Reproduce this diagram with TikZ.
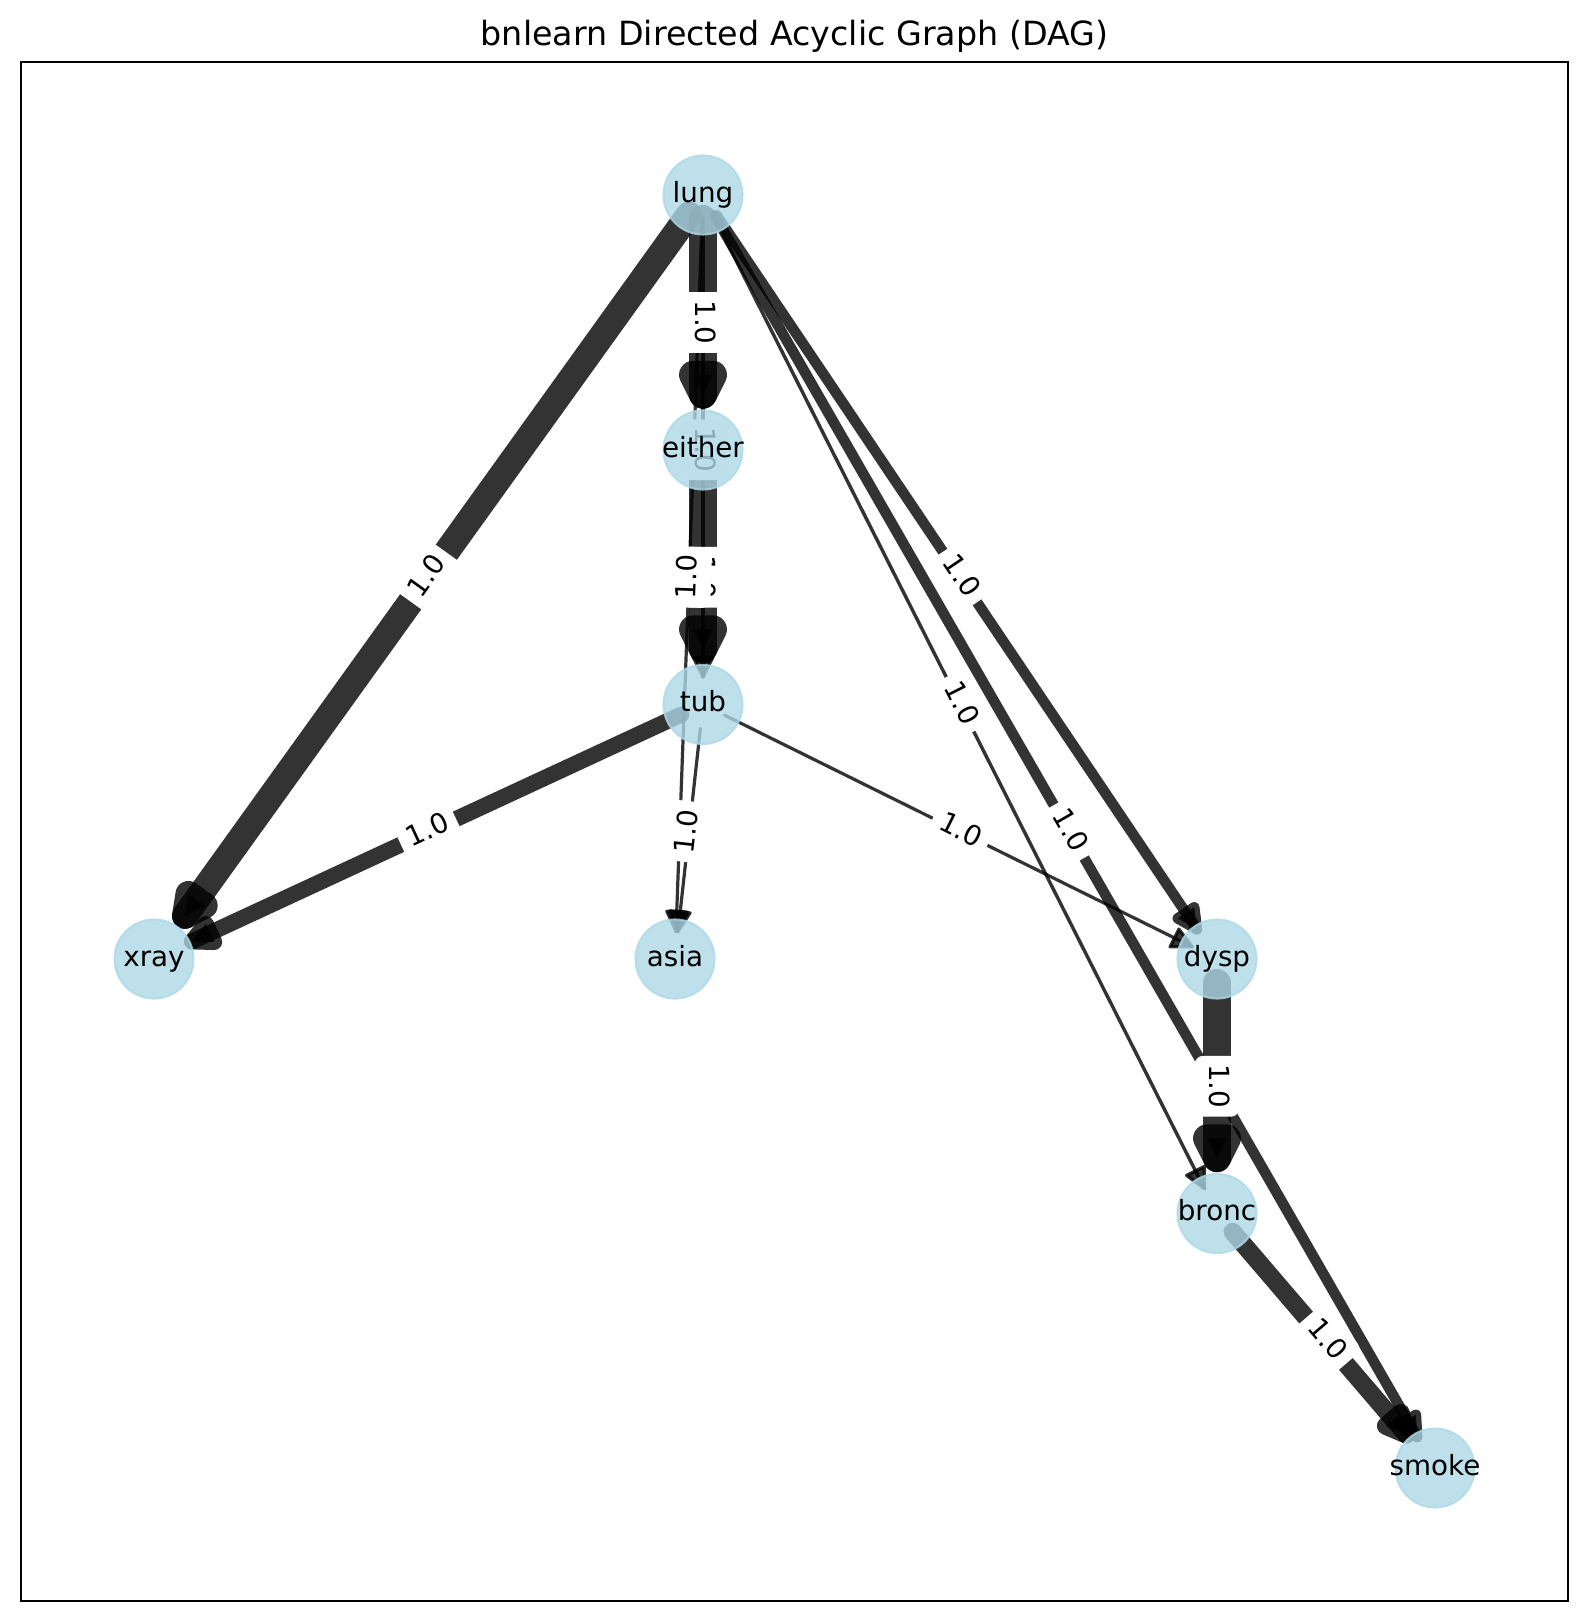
\documentclass[tikz,border=0pt]{standalone}
\usepackage{fontspec}
\setmainfont{DejaVu Sans}
\usetikzlibrary{calc}
\pgfdeclarelayer{edgelayer}
\pgfdeclarelayer{labellayer}
\pgfsetlayers{edgelayer,labellayer,main}
\definecolor{nodeblue}{RGB}{173,216,230}
\tikzset{
  dagnode/.style={circle, inner sep=0pt, minimum size=28.5pt, fill=nodeblue, draw=nodeblue,
    line width=0.7pt, fill opacity=0.8, draw opacity=0.8, text opacity=1, text=black,
    font=\fontsize{10}{12}\selectfont, text height=7.6pt, text depth=2.4pt},
  edgeline/.style={draw=black, draw opacity=0.8, line cap=round},
  edgehead/.style={draw=black, fill=black, draw opacity=0.8, fill opacity=0.8, line join=round},
  elabel/.style={fill=white, rounded corners=3pt, inner xsep=3pt, inner ysep=3pt,
    text height=7.6pt, text depth=2.4pt, font=\fontsize{10}{12}\selectfont, text=black},
  frame/.style={draw=black, line width=0.8pt}
}
\newcommand\dagedge[3]{%
  \pgfmathsetlengthmacro\dagw{#3*0.36pt}%
  \pgfmathsetlengthmacro\dagtip{8.64pt+1.118*\dagw}%
  \begin{pgfonlayer}{edgelayer}
  \coordinate (dagS) at ($(#1)!8.64pt!(#2)$);
  \coordinate (dagT) at ($(#2)!\dagtip!(#1)$);
  \coordinate (dagB) at ($(dagT)!7.16pt!(#1)$);
  \coordinate (dagBa) at ($(dagB)!3.58pt!90:(dagT)$);
  \coordinate (dagBb) at ($(dagB)!3.58pt!-90:(dagT)$);
  \draw[edgeline, line width=\dagw] (dagS) -- (dagT);
  \filldraw[edgehead, line width=\dagw] (dagBa) -- (dagT) -- (dagBb) -- cycle;
  \end{pgfonlayer}%
}
\newcommand\daglabel[3]{%
  \begin{pgfonlayer}{labellayer}
  \node[elabel, rotate=#3] (lab-#1-#2) at ($(#1)!0.5!(#2)$) {1.0};
  \end{pgfonlayer}%
}
\begin{document}
\begin{tikzpicture}[x=0.36pt, y=-0.36pt]
\useasboundingbox (0,0) rectangle (1589,1622);
\draw[frame] (21,62) rectangle (1568,1601);
\node[anchor=base, font=\fontsize{12}{14}\selectfont] (title) at (794.5,45.3) {bnlearn Directed Acyclic Graph (DAG)};

\node[dagnode] (lung)   at (703,195)    {\makebox[0pt]{lung}};
\node[dagnode] (either) at (703,450)    {\makebox[0pt]{either}};
\node[dagnode] (tub)    at (703,704.5)  {\makebox[0pt]{tub}};
\node[dagnode] (xray)   at (154,959)    {\makebox[0pt]{xray}};
\node[dagnode] (asia)   at (675,959)    {\makebox[0pt]{asia}};
\node[dagnode] (dysp)   at (1217,959)   {\makebox[0pt]{dysp}};
\node[dagnode] (bronc)  at (1217,1213.5){\makebox[0pt]{bronc}};
\node[dagnode] (smoke)  at (1435,1468)  {\makebox[0pt]{smoke}};

\dagedge{lung}{xray}{26}
\dagedge{lung}{either}{28}
\dagedge{lung}{tub}{3.2}
\dagedge{lung}{asia}{3.2}
\dagedge{lung}{dysp}{10.5}
\dagedge{lung}{bronc}{3.4}
\dagedge{lung}{smoke}{10.5}
\dagedge{either}{tub}{28}
\dagedge{tub}{xray}{16}
\dagedge{tub}{asia}{3.2}
\dagedge{tub}{dysp}{3.2}
\dagedge{dysp}{bronc}{28}
\dagedge{bronc}{smoke}{18}

\daglabel{lung}{xray}{54.3}
\daglabel{lung}{either}{-90}
\daglabel{lung}{tub}{-90}
\daglabel{either}{tub}{-90}
\daglabel{lung}{asia}{87.9}
\daglabel{lung}{dysp}{-56.07}
\daglabel{lung}{bronc}{-63.22}
\daglabel{lung}{smoke}{-60.1}
\daglabel{tub}{xray}{24.87}
\daglabel{tub}{asia}{83.72}
\daglabel{tub}{dysp}{-26.34}
\daglabel{dysp}{bronc}{-90}
\daglabel{bronc}{smoke}{-49.42}
\end{tikzpicture}
\end{document}
